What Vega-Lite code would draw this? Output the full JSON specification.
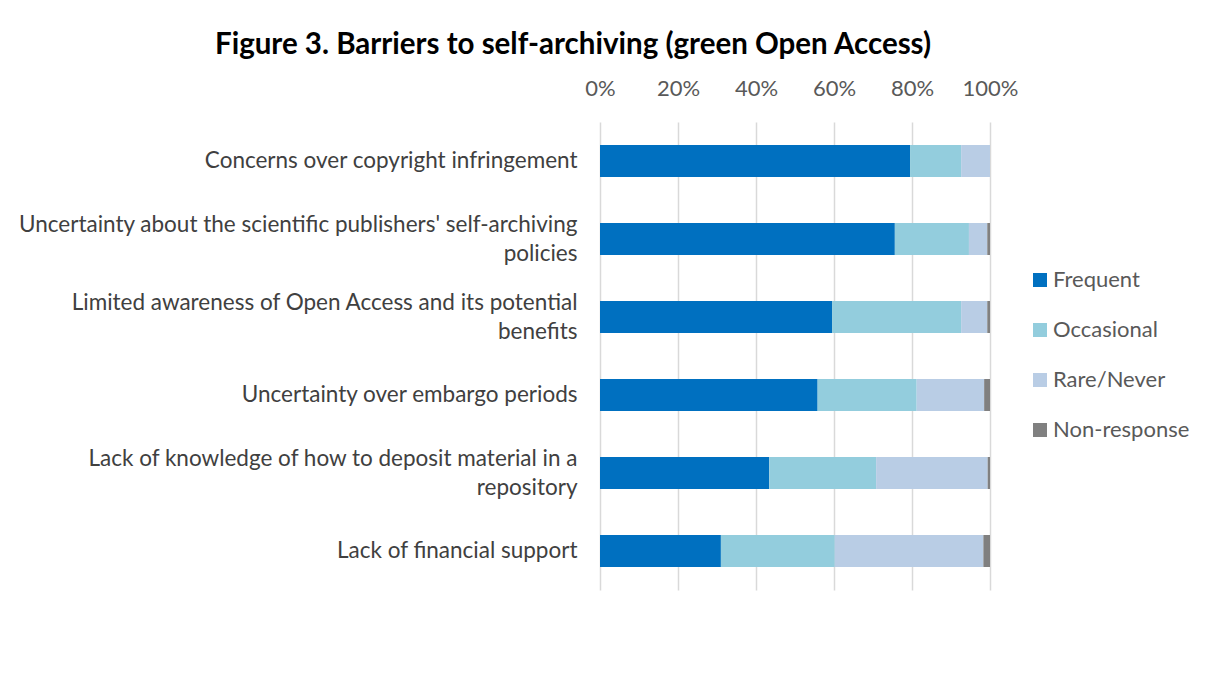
{
  "$schema": "https://vega.github.io/schema/vega-lite/v6.json",
  "width": 390,
  "height": 468,
  "autosize": {"type": "none"},
  "padding": {"left": 600, "top": 122, "right": 220, "bottom": 87},
  "background": "white",
  "title": {
    "text": "Figure 3. Barriers to self-archiving (green Open Access)",
    "anchor": "middle",
    "dx": -222,
    "offset": 17,
    "font": "Lato",
    "fontSize": 29.5,
    "fontWeight": "bold",
    "color": "#000000"
  },
  "data": {
    "values": [
      {"barrier": "Concerns over copyright infringement", "response": "Frequent", "order": 1, "share": 0.795},
      {"barrier": "Concerns over copyright infringement", "response": "Occasional", "order": 2, "share": 0.131},
      {"barrier": "Concerns over copyright infringement", "response": "Rare/Never", "order": 3, "share": 0.074},
      {"barrier": "Concerns over copyright infringement", "response": "Non-response", "order": 4, "share": 0.0},
      {"barrier": "Uncertainty about the scientific publishers' self-archiving|policies", "response": "Frequent", "order": 1, "share": 0.756},
      {"barrier": "Uncertainty about the scientific publishers' self-archiving|policies", "response": "Occasional", "order": 2, "share": 0.19},
      {"barrier": "Uncertainty about the scientific publishers' self-archiving|policies", "response": "Rare/Never", "order": 3, "share": 0.047},
      {"barrier": "Uncertainty about the scientific publishers' self-archiving|policies", "response": "Non-response", "order": 4, "share": 0.007},
      {"barrier": "Limited awareness of Open Access and its potential|benefits", "response": "Frequent", "order": 1, "share": 0.595},
      {"barrier": "Limited awareness of Open Access and its potential|benefits", "response": "Occasional", "order": 2, "share": 0.331},
      {"barrier": "Limited awareness of Open Access and its potential|benefits", "response": "Rare/Never", "order": 3, "share": 0.067},
      {"barrier": "Limited awareness of Open Access and its potential|benefits", "response": "Non-response", "order": 4, "share": 0.007},
      {"barrier": "Uncertainty over embargo periods", "response": "Frequent", "order": 1, "share": 0.558},
      {"barrier": "Uncertainty over embargo periods", "response": "Occasional", "order": 2, "share": 0.254},
      {"barrier": "Uncertainty over embargo periods", "response": "Rare/Never", "order": 3, "share": 0.173},
      {"barrier": "Uncertainty over embargo periods", "response": "Non-response", "order": 4, "share": 0.015},
      {"barrier": "Lack of knowledge of how to deposit material in a|repository", "response": "Frequent", "order": 1, "share": 0.434},
      {"barrier": "Lack of knowledge of how to deposit material in a|repository", "response": "Occasional", "order": 2, "share": 0.274},
      {"barrier": "Lack of knowledge of how to deposit material in a|repository", "response": "Rare/Never", "order": 3, "share": 0.286},
      {"barrier": "Lack of knowledge of how to deposit material in a|repository", "response": "Non-response", "order": 4, "share": 0.006},
      {"barrier": "Lack of financial support", "response": "Frequent", "order": 1, "share": 0.31},
      {"barrier": "Lack of financial support", "response": "Occasional", "order": 2, "share": 0.292},
      {"barrier": "Lack of financial support", "response": "Rare/Never", "order": 3, "share": 0.381},
      {"barrier": "Lack of financial support", "response": "Non-response", "order": 4, "share": 0.017}
    ]
  },
  "mark": {"type": "bar"},
  "encoding": {
    "y": {
      "field": "barrier",
      "type": "nominal",
      "sort": null,
      "title": null,
      "scale": {"paddingInner": 0.59, "paddingOuter": 0.295},
      "axis": {
        "domain": false,
        "ticks": false,
        "labelPadding": 23,
        "labelFont": "Lato",
        "labelFontSize": 22.5,
        "labelColor": "#404040",
        "labelLimit": 700,
        "labelLineHeight": 29,
        "labelExpr": "split(datum.label, '|')",
        "labelOffset": {
          "condition": {"test": "indexof(datum.value, '|') >= 0", "value": -14},
          "value": 0
        }
      }
    },
    "x": {
      "field": "share",
      "type": "quantitative",
      "stack": "zero",
      "title": null,
      "scale": {"domain": [0, 1], "nice": false},
      "axis": {
        "orient": "top",
        "format": ".0%",
        "values": [0, 0.2, 0.4, 0.6, 0.8, 1],
        "domain": false,
        "ticks": false,
        "labelFlush": false,
        "labelPadding": 22,
        "labelFont": "Lato",
        "labelFontSize": 22,
        "labelColor": "#595959",
        "grid": true,
        "gridColor": "#D9D9D9",
        "gridWidth": 1.5
      }
    },
    "color": {
      "field": "response",
      "type": "nominal",
      "scale": {
        "domain": ["Frequent", "Occasional", "Rare/Never", "Non-response"],
        "range": ["#0070C0", "#93CDDD", "#B9CDE5", "#808080"]
      },
      "legend": {
        "title": null,
        "orient": "none",
        "legendX": 429,
        "legendY": 147,
        "symbolType": "square",
        "symbolSize": 196,
        "symbolStrokeWidth": 0,
        "symbolOpacity": 1,
        "labelFont": "Lato",
        "labelFontSize": 22,
        "labelColor": "#595959",
        "labelOffset": 2,
        "rowPadding": 28
      }
    },
    "order": {"field": "order", "type": "quantitative"}
  },
  "config": {
    "view": {"stroke": null}
  }
}
